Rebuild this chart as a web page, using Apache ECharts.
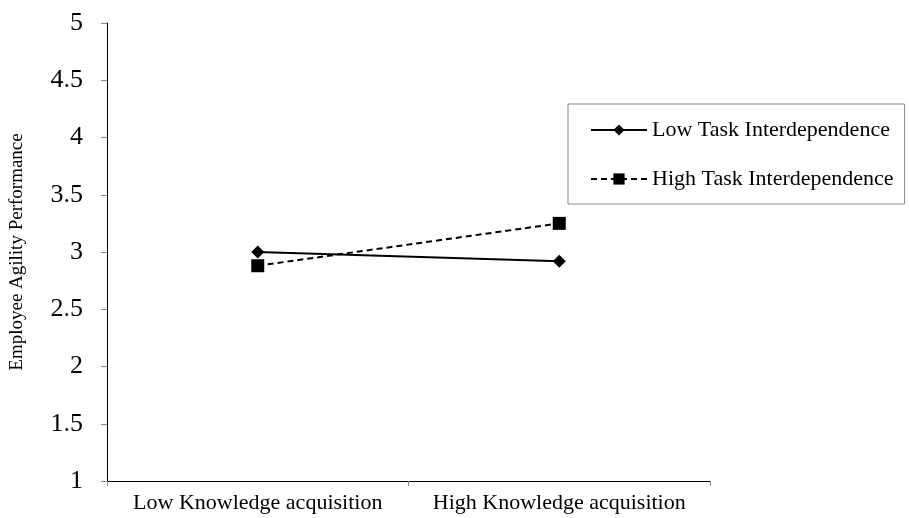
<!DOCTYPE html>
<html>
<head>
<meta charset="utf-8">
<script src="https://cdn.jsdelivr.net/npm/echarts@6/dist/echarts.min.js"></script>
<style>html,body{margin:0;padding:0;background:#fff}#c{width:909px;height:518px}</style>
</head>
<body>
<div id="c"></div>
<script>
var categories = ['Low Knowledge acquisition', 'High Knowledge acquisition'];
var lowTask = [3.00, 2.92];
var highTask = [2.88, 3.25];
var yTicks = {min: 1, max: 5, interval: 0.5};
var FONT = 'Liberation Serif';

var chart = echarts.init(document.getElementById('c'), null, {renderer: 'canvas'});
chart.setOption({
  animation: false,
  backgroundColor: '#fff',
  grid: {left: 107, top: 23, right: 199, bottom: 37},
  legend: {
    orient: 'vertical',
    left: 568, top: 104,
    padding: [15, 11, 14, 22],
    itemGap: 27,
    itemWidth: 56, itemHeight: 14,
    borderColor: '#888', borderWidth: 1,
    textStyle: {fontFamily: FONT, fontSize: 22, lineHeight: 22, color: '#000'},
    data: ['Low Task Interdependence', 'High Task Interdependence']
  },
  xAxis: {
    type: 'category',
    data: categories,
    boundaryGap: true,
    axisLine: {lineStyle: {color: '#000', width: 1}},
    axisTick: {show: true, length: 5, lineStyle: {color: '#888'}},
    axisLabel: {fontFamily: FONT, fontSize: 22, color: '#000', margin: 11, interval: 0, hideOverlap: false}
  },
  yAxis: {
    type: 'value',
    min: yTicks.min, max: yTicks.max, interval: yTicks.interval,
    name: 'Employee Agility Performance',
    nameLocation: 'middle',
    nameGap: 80,
    nameTextStyle: {fontFamily: FONT, fontSize: 19, color: '#000'},
    splitLine: {show: false},
    axisLine: {show: true, lineStyle: {color: '#000', width: 1}},
    axisTick: {show: true, length: 6, lineStyle: {color: '#888'}},
    axisLabel: {fontFamily: FONT, fontSize: 26, color: '#000', margin: 24}
  },
  series: [
    {
      name: 'Low Task Interdependence',
      type: 'line',
      data: lowTask,
      symbol: 'diamond', symbolSize: 13,
      itemStyle: {color: '#000'},
      lineStyle: {color: '#000', width: 2, type: 'solid'}
    },
    {
      name: 'High Task Interdependence',
      type: 'line',
      data: highTask,
      symbol: 'rect', symbolSize: 13,
      itemStyle: {color: '#000'},
      lineStyle: {color: '#000', width: 2, type: [6, 4]}
    }
  ]
});
</script>
</body>
</html>
